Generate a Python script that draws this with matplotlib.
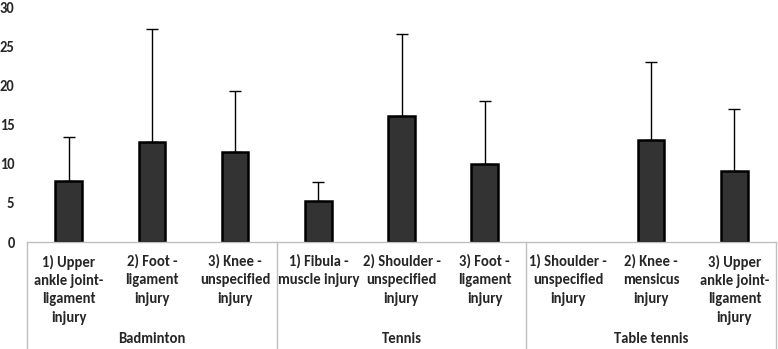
import matplotlib
matplotlib.use("Agg")
import matplotlib.pyplot as plt
import matplotlib.transforms as mtransforms

groups = ["Badminton", "Tennis", "Table tennis"]
categories = [
    "1) Upper\nankle joint-\nligament\ninjury", "2) Foot -\nligament\ninjury", "3) Knee -\nunspecified\ninjury",
    "1) Fibula -\nmuscle injury", "2) Shoulder -\nunspecified\ninjury", "3) Foot -\nligament\ninjury",
    "1) Shoulder -\nunspecified\ninjury", "2) Knee -\nmensicus\ninjury", "3) Upper\nankle joint-\nligament\ninjury",
]
values = [7.8, 12.8, 11.5, 5.2, 16.1, 10.0, 0.0, 13.1, 9.1]
errors = [5.6, 14.4, 7.8, 2.5, 10.5, 8.0, 0.0, 9.9, 7.9]
yticks = [0, 5, 10, 15, 20, 25, 30]

plt.rcParams['font.family'] = ['Carlito', 'DejaVu Sans']
plt.rcParams['font.weight'] = 'bold'

TXT = "#262626"
FS = 10.5
W, H = 778, 349
fig = plt.figure(figsize=(W / 100, H / 100), dpi=100)
x0, x1 = 27, 776
ytop, ybot = 7.5, 242
ax = fig.add_axes([x0 / W, (H - ybot) / H, (x1 - x0) / W, (ybot - ytop) / H])

x = list(range(len(categories)))
lws = [1.8 if v > 0 else 0 for v in values]
ax.bar(x, values, width=0.32, color="#333333", edgecolor="black", linewidth=lws, zorder=2)
nz = [i for i, v in enumerate(values) if v > 0]
ax.errorbar([x[i] for i in nz], [values[i] for i in nz],
            yerr=[[0] * len(nz), [errors[i] for i in nz]],
            fmt="none", ecolor="black", elinewidth=1.0, capsize=4, capthick=1.0, zorder=1)

ax.set_xlim(-0.5, len(categories) - 0.5)
ax.set_ylim(0, 30)
ax.set_yticks(yticks)
ax.set_yticklabels([str(t) for t in yticks], fontsize=FS, fontweight="bold", color=TXT)
ax.tick_params(axis="y", length=0, pad=9)
ax.set_xticks(x)
ax.set_xticklabels(categories, fontsize=FS, fontweight="bold", color=TXT, linespacing=1.4)
ax.tick_params(axis="x", length=0, pad=9)

for s in ["top", "right", "left"]:
    ax.spines[s].set_visible(False)
ax.spines["bottom"].set_color("#bfbfbf")
ax.spines["bottom"].set_linewidth(1.0)

trans = mtransforms.blended_transform_factory(ax.transData, ax.transAxes)
axh = ybot - ytop
depth = -(H - ybot) / axh
n_per = 3
for g in range(len(groups) + 1):
    xs = g * n_per - 0.5
    ax.plot([xs, xs], [0, depth], transform=trans, color="#bfbfbf", lw=1.0, clip_on=False)
for g, name in enumerate(groups):
    xc = g * n_per + (n_per - 1) / 2
    ax.text(xc, -(339 - ybot) / axh, name, transform=trans, ha="center", va="center",
            fontsize=FS, fontweight="bold", color=TXT)

fig.savefig("out.png", dpi=100)
